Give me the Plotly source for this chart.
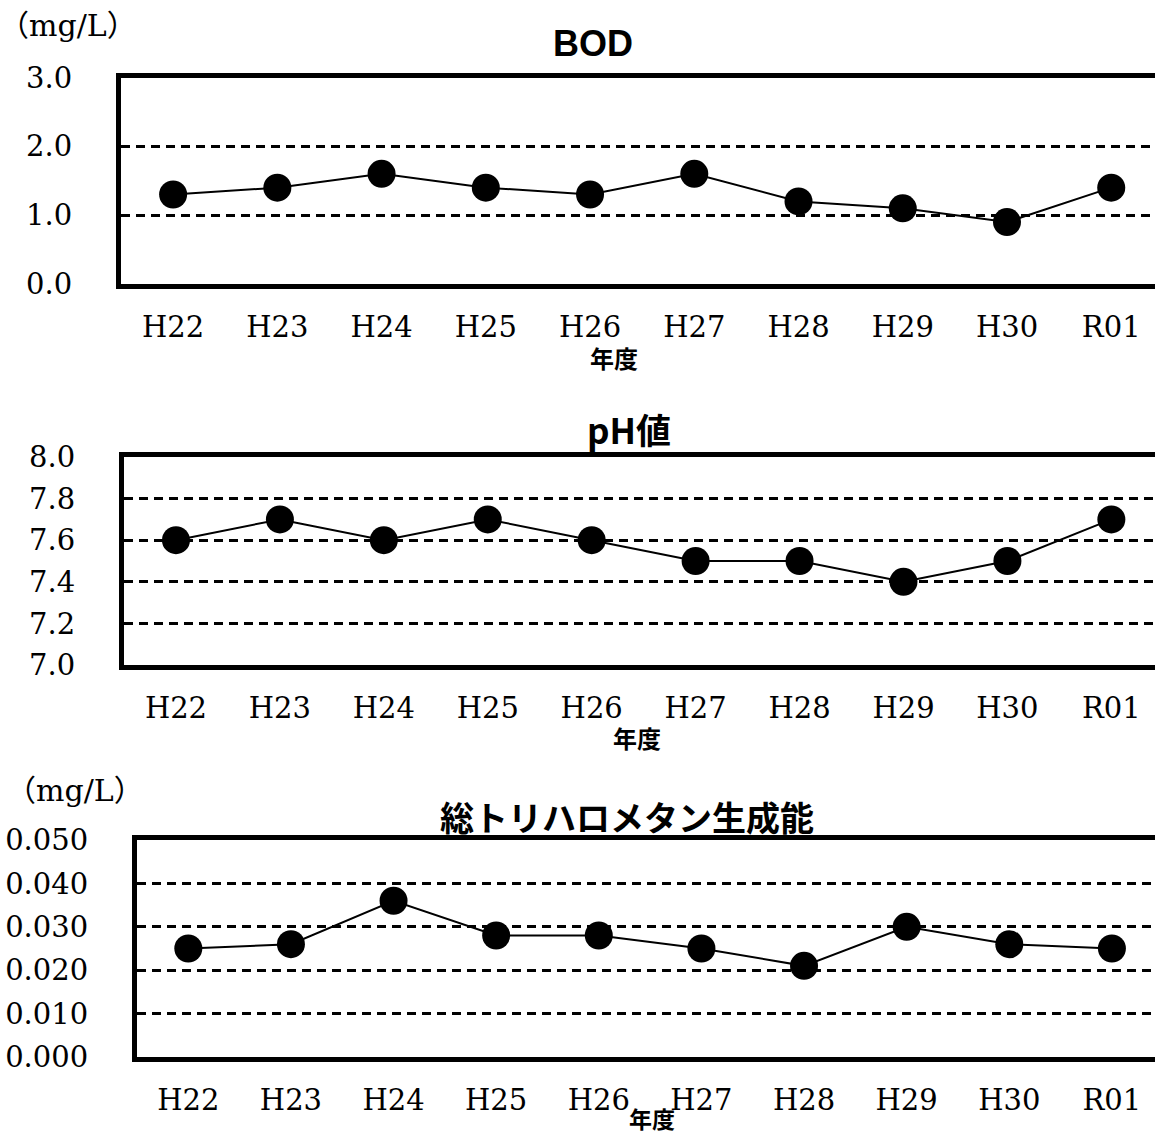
import plotly.graph_objects as go

years = ["H22", "H23", "H24", "H25", "H26", "H27", "H28", "H29", "H30", "R01"]
bod = [1.3, 1.4, 1.6, 1.4, 1.3, 1.6, 1.2, 1.1, 0.9, 1.4]
ph = [7.6, 7.7, 7.6, 7.7, 7.6, 7.5, 7.5, 7.4, 7.5, 7.7]
thm = [0.025, 0.026, 0.036, 0.028, 0.028, 0.025, 0.021, 0.030, 0.026, 0.025]

bod_ticks = [0.0, 1.0, 2.0, 3.0]
ph_ticks = [7.0, 7.2, 7.4, 7.6, 7.8, 8.0]
thm_ticks = [0.0, 0.01, 0.02, 0.03, 0.04, 0.05]

titles = ["BOD", "pH値", "総トリハロメタン生成能"]

W, H = 1155, 1137
serif = "DejaVu Serif"
cjk = "Noto Sans CJK JP"

fig = go.Figure()

panels = [
    dict(y=bod, xd=[121 / W, 1], yd=[1 - 284 / H, 1 - 77.5 / H], rng=[0, 3], ticks=bod_ticks, fmt=".1f"),
    dict(y=ph, xd=[124 / W, 1], yd=[1 - 665 / H, 1 - 457 / H], rng=[7.0, 8.0], ticks=ph_ticks, fmt=".1f"),
    dict(y=thm, xd=[137 / W, 1], yd=[1 - 1057 / H, 1 - 840 / H], rng=[0, 0.05], ticks=thm_ticks, fmt=".3f"),
]

for i, p in enumerate(panels):
    n = "" if i == 0 else str(i + 1)
    fig.add_trace(go.Scatter(
        x=years, y=p["y"], mode="lines+markers",
        line=dict(color="black", width=2),
        marker=dict(color="black", size=28),
        xaxis="x" + n, yaxis="y" + n, showlegend=False,
        cliponaxis=False,
    ))
    fig.layout["xaxis" + n] = dict(
        domain=p["xd"], anchor="y" + n, type="category",
        range=[-0.5, 9.42], showgrid=False, showline=True, mirror=True,
        linecolor="black", linewidth=5, ticks="", ticklabelstandoff=13,
        tickfont=dict(family=serif, size=29, color="black"),
        fixedrange=True, zeroline=False, automargin=False,
    )
    fig.layout["yaxis" + n] = dict(
        domain=p["yd"], anchor="x" + n, range=p["rng"],
        tickvals=p["ticks"], tickformat=p["fmt"],
        showgrid=True, gridcolor="black", gridwidth=2.5, griddash="9px,6px",
        showline=True, mirror=False, linecolor="black", linewidth=5,
        ticks="", ticklabelstandoff=38, zeroline=False,
        tickfont=dict(family=serif, size=29, color="black"),
        fixedrange=True, automargin=False,
    )

annotations = [
    dict(text=titles[0], x=593 / W, y=1 - 44 / H, ya="middle", font=dict(family="Liberation Sans", size=36, color="black"), bold=True),
    dict(text=titles[1], x=629 / W, y=1 - 428 / H, ya="middle", font=dict(family=cjk, size=35, color="black"), bold=True),
    dict(text=titles[2], x=627 / W, y=1 - 816 / H, ya="middle", font=dict(family=cjk, size=34, color="black"), bold=True),
    dict(text="年度", x=614 / W, y=1 - 357 / H, ya="middle", font=dict(family=cjk, size=24, color="black"), bold=True),
    dict(text="年度", x=637 / W, y=1 - 737 / H, ya="middle", font=dict(family=cjk, size=24, color="black"), bold=True),
    dict(text="年度", x=652 / W, y=0, ya="bottom", font=dict(family=cjk, size=23, color="black"), bold=True),
    dict(text="（mg/L）", x=68 / W, y=1 - 6 / H, ya="top", font=dict(family=serif + ", " + cjk, size=30, color="black"), bold=False),
    dict(text="（mg/L）", x=75 / W, y=1 - 790 / H, ya="middle", font=dict(family=serif + ", " + cjk, size=30, color="black"), bold=False),
]
for a in annotations:
    txt = "<b>" + a["text"] + "</b>" if a["bold"] else a["text"]
    fig.add_annotation(text=txt, x=a["x"], y=a["y"], xref="paper", yref="paper",
                       xanchor="center", yanchor=a["ya"], showarrow=False, font=a["font"])

fig.update_layout(
    width=W, height=H, margin=dict(l=0, r=0, t=0, b=0),
    paper_bgcolor="white", plot_bgcolor="white",
)

fig.write_html(
    "out.html",
    config={"displayModeBar": False},
    post_script="document.body.style.margin='0';document.body.style.overflow='hidden';",
)
